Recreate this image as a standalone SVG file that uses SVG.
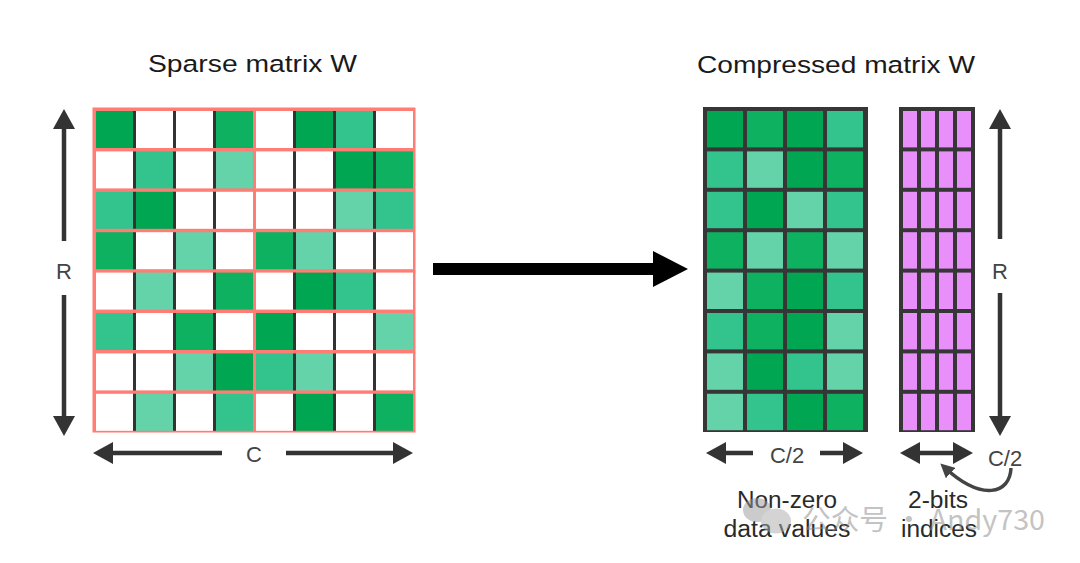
<svg xmlns="http://www.w3.org/2000/svg" width="1080" height="563" viewBox="0 0 1080 563">
<style>
  .d{fill:#00A651}
  .m{fill:#0EB160}
  .l{fill:#33C48D}
  .x{fill:#64D3AA}
  .w{fill:#FFFFFF}
  .p{fill:#E98FF9}
  .title{font-family:"Liberation Sans",Arial,sans-serif;font-size:24.5px;fill:#1a1a1a}
  .lab{font-family:"Liberation Sans",Arial,sans-serif;font-size:23px;fill:#2a2a2a}
  .dim{font-family:"Liberation Sans",Arial,sans-serif;font-size:22px;fill:#444;text-anchor:middle}
  .arr{stroke:#333;stroke-width:4.5;fill:none}
  .sep{stroke:#333;stroke-width:3;stroke-dasharray:37 3.4}
</style>
<defs>
  <marker id="ah" markerUnits="userSpaceOnUse" markerWidth="20" markerHeight="22" viewBox="0 0 20 22" refX="14" refY="11" orient="auto-start-reverse">
    <path d="M0,0 L20,11 L0,22 z" fill="#333"/>
  </marker>
  <marker id="ahs" markerUnits="userSpaceOnUse" markerWidth="14" markerHeight="14" viewBox="0 0 14 14" refX="9" refY="7" orient="auto">
    <path d="M0,0 L14,7 L0,14 z" fill="#444"/>
  </marker>
</defs>
<rect width="1080" height="563" fill="#fff"/>

<g id="title-sparse"><text class="title" x="148" y="72" textLength="209" lengthAdjust="spacingAndGlyphs">Sparse matrix W</text></g>
<g id="title-compressed"><text class="title" x="697" y="73" textLength="278" lengthAdjust="spacingAndGlyphs">Compressed matrix W</text></g>

<g id="sparse-matrix">
  <rect x="92.5" y="107.5" width="323" height="325" fill="#FF7D74"/>
  <rect class="d" x="96" y="111" width="37" height="37"/><rect class="w" x="136" y="111" width="37" height="37"/><rect class="w" x="176" y="111" width="37" height="37"/><rect class="m" x="216" y="111" width="37" height="37"/><rect class="w" x="256" y="111" width="37" height="37"/><rect class="d" x="296" y="111" width="37" height="37"/><rect class="l" x="336" y="111" width="37" height="37"/><rect class="w" x="376" y="111" width="37" height="37"/>
  <rect class="w" x="96" y="151.4" width="37" height="37"/><rect class="l" x="136" y="151.4" width="37" height="37"/><rect class="w" x="176" y="151.4" width="37" height="37"/><rect class="x" x="216" y="151.4" width="37" height="37"/><rect class="w" x="256" y="151.4" width="37" height="37"/><rect class="w" x="296" y="151.4" width="37" height="37"/><rect class="d" x="336" y="151.4" width="37" height="37"/><rect class="m" x="376" y="151.4" width="37" height="37"/>
  <rect class="l" x="96" y="191.8" width="37" height="37"/><rect class="d" x="136" y="191.8" width="37" height="37"/><rect class="w" x="176" y="191.8" width="37" height="37"/><rect class="w" x="216" y="191.8" width="37" height="37"/><rect class="w" x="256" y="191.8" width="37" height="37"/><rect class="w" x="296" y="191.8" width="37" height="37"/><rect class="x" x="336" y="191.8" width="37" height="37"/><rect class="l" x="376" y="191.8" width="37" height="37"/>
  <rect class="m" x="96" y="232.2" width="37" height="37"/><rect class="w" x="136" y="232.2" width="37" height="37"/><rect class="x" x="176" y="232.2" width="37" height="37"/><rect class="w" x="216" y="232.2" width="37" height="37"/><rect class="m" x="256" y="232.2" width="37" height="37"/><rect class="x" x="296" y="232.2" width="37" height="37"/><rect class="w" x="336" y="232.2" width="37" height="37"/><rect class="w" x="376" y="232.2" width="37" height="37"/>
  <rect class="w" x="96" y="272.6" width="37" height="37"/><rect class="x" x="136" y="272.6" width="37" height="37"/><rect class="w" x="176" y="272.6" width="37" height="37"/><rect class="m" x="216" y="272.6" width="37" height="37"/><rect class="w" x="256" y="272.6" width="37" height="37"/><rect class="d" x="296" y="272.6" width="37" height="37"/><rect class="l" x="336" y="272.6" width="37" height="37"/><rect class="w" x="376" y="272.6" width="37" height="37"/>
  <rect class="l" x="96" y="313" width="37" height="37"/><rect class="w" x="136" y="313" width="37" height="37"/><rect class="m" x="176" y="313" width="37" height="37"/><rect class="w" x="216" y="313" width="37" height="37"/><rect class="d" x="256" y="313" width="37" height="37"/><rect class="w" x="296" y="313" width="37" height="37"/><rect class="w" x="336" y="313" width="37" height="37"/><rect class="x" x="376" y="313" width="37" height="37"/>
  <rect class="w" x="96" y="353.4" width="37" height="37"/><rect class="w" x="136" y="353.4" width="37" height="37"/><rect class="x" x="176" y="353.4" width="37" height="37"/><rect class="d" x="216" y="353.4" width="37" height="37"/><rect class="l" x="256" y="353.4" width="37" height="37"/><rect class="x" x="296" y="353.4" width="37" height="37"/><rect class="w" x="336" y="353.4" width="37" height="37"/><rect class="w" x="376" y="353.4" width="37" height="37"/>
  <rect class="w" x="96" y="393.8" width="37" height="37"/><rect class="x" x="136" y="393.8" width="37" height="37"/><rect class="w" x="176" y="393.8" width="37" height="37"/><rect class="l" x="216" y="393.8" width="37" height="37"/><rect class="w" x="256" y="393.8" width="37" height="37"/><rect class="d" x="296" y="393.8" width="37" height="37"/><rect class="w" x="336" y="393.8" width="37" height="37"/><rect class="m" x="376" y="393.8" width="37" height="37"/>
  <line class="sep" x1="134.5" y1="111" x2="134.5" y2="431"/>
  <line class="sep" x1="174.5" y1="111" x2="174.5" y2="431"/>
  <line class="sep" x1="214.5" y1="111" x2="214.5" y2="431"/>
  <line class="sep" x1="294.5" y1="111" x2="294.5" y2="431"/>
  <line class="sep" x1="334.5" y1="111" x2="334.5" y2="431"/>
  <line class="sep" x1="374.5" y1="111" x2="374.5" y2="431"/>
</g>

<g id="compressed-values">
  <rect x="703" y="107" width="165" height="325" fill="#363636"/>
  <rect class="d" x="707" y="111" width="36" height="36.4"/><rect class="m" x="747" y="111" width="36" height="36.4"/><rect class="d" x="787" y="111" width="36" height="36.4"/><rect class="l" x="827" y="111" width="36" height="36.4"/>
  <rect class="l" x="707" y="151.4" width="36" height="36.4"/><rect class="x" x="747" y="151.4" width="36" height="36.4"/><rect class="d" x="787" y="151.4" width="36" height="36.4"/><rect class="m" x="827" y="151.4" width="36" height="36.4"/>
  <rect class="l" x="707" y="191.8" width="36" height="36.4"/><rect class="d" x="747" y="191.8" width="36" height="36.4"/><rect class="x" x="787" y="191.8" width="36" height="36.4"/><rect class="l" x="827" y="191.8" width="36" height="36.4"/>
  <rect class="m" x="707" y="232.2" width="36" height="36.4"/><rect class="x" x="747" y="232.2" width="36" height="36.4"/><rect class="m" x="787" y="232.2" width="36" height="36.4"/><rect class="x" x="827" y="232.2" width="36" height="36.4"/>
  <rect class="x" x="707" y="272.6" width="36" height="36.4"/><rect class="m" x="747" y="272.6" width="36" height="36.4"/><rect class="d" x="787" y="272.6" width="36" height="36.4"/><rect class="l" x="827" y="272.6" width="36" height="36.4"/>
  <rect class="l" x="707" y="313" width="36" height="36.4"/><rect class="m" x="747" y="313" width="36" height="36.4"/><rect class="d" x="787" y="313" width="36" height="36.4"/><rect class="x" x="827" y="313" width="36" height="36.4"/>
  <rect class="x" x="707" y="353.4" width="36" height="36.4"/><rect class="d" x="747" y="353.4" width="36" height="36.4"/><rect class="l" x="787" y="353.4" width="36" height="36.4"/><rect class="x" x="827" y="353.4" width="36" height="36.4"/>
  <rect class="x" x="707" y="393.8" width="36" height="36.4"/><rect class="l" x="747" y="393.8" width="36" height="36.4"/><rect class="d" x="787" y="393.8" width="36" height="36.4"/><rect class="m" x="827" y="393.8" width="36" height="36.4"/>
</g>

<g id="indices">
  <rect x="899" y="107" width="76" height="325" fill="#363636"/>
  <rect class="p" x="903" y="111" width="14" height="36.4"/><rect class="p" x="921" y="111" width="14" height="36.4"/><rect class="p" x="939" y="111" width="14" height="36.4"/><rect class="p" x="957" y="111" width="14" height="36.4"/>
  <rect class="p" x="903" y="151.4" width="14" height="36.4"/><rect class="p" x="921" y="151.4" width="14" height="36.4"/><rect class="p" x="939" y="151.4" width="14" height="36.4"/><rect class="p" x="957" y="151.4" width="14" height="36.4"/>
  <rect class="p" x="903" y="191.8" width="14" height="36.4"/><rect class="p" x="921" y="191.8" width="14" height="36.4"/><rect class="p" x="939" y="191.8" width="14" height="36.4"/><rect class="p" x="957" y="191.8" width="14" height="36.4"/>
  <rect class="p" x="903" y="232.2" width="14" height="36.4"/><rect class="p" x="921" y="232.2" width="14" height="36.4"/><rect class="p" x="939" y="232.2" width="14" height="36.4"/><rect class="p" x="957" y="232.2" width="14" height="36.4"/>
  <rect class="p" x="903" y="272.6" width="14" height="36.4"/><rect class="p" x="921" y="272.6" width="14" height="36.4"/><rect class="p" x="939" y="272.6" width="14" height="36.4"/><rect class="p" x="957" y="272.6" width="14" height="36.4"/>
  <rect class="p" x="903" y="313" width="14" height="36.4"/><rect class="p" x="921" y="313" width="14" height="36.4"/><rect class="p" x="939" y="313" width="14" height="36.4"/><rect class="p" x="957" y="313" width="14" height="36.4"/>
  <rect class="p" x="903" y="353.4" width="14" height="36.4"/><rect class="p" x="921" y="353.4" width="14" height="36.4"/><rect class="p" x="939" y="353.4" width="14" height="36.4"/><rect class="p" x="957" y="353.4" width="14" height="36.4"/>
  <rect class="p" x="903" y="393.8" width="14" height="36.4"/><rect class="p" x="921" y="393.8" width="14" height="36.4"/><rect class="p" x="939" y="393.8" width="14" height="36.4"/><rect class="p" x="957" y="393.8" width="14" height="36.4"/>
</g>

<g id="dimension-labels">
  <text class="dim" x="64" y="279">R</text>
  <text class="dim" x="1000" y="279">R</text>
  <text class="dim" x="254" y="462">C</text>
  <text class="dim" x="787" y="463">C/2</text>
  <text class="dim" x="1005" y="466">C/2</text>
</g>

<g id="caption-values">
  <text class="lab" x="787" y="508" text-anchor="middle" textLength="100" lengthAdjust="spacingAndGlyphs">Non-zero</text>
  <text class="lab" x="787" y="537" text-anchor="middle" textLength="127" lengthAdjust="spacingAndGlyphs">data values</text>
</g>
<g id="caption-indices">
  <text class="lab" x="938" y="508" text-anchor="middle" textLength="60" lengthAdjust="spacingAndGlyphs">2-bits</text>
  <text class="lab" x="939" y="537" text-anchor="middle" textLength="76" lengthAdjust="spacingAndGlyphs">indices</text>
</g>

<g id="connectors">
  <line class="arr" x1="64" y1="241" x2="64" y2="115" marker-end="url(#ah)"/>
  <line class="arr" x1="64" y1="295" x2="64" y2="430" marker-end="url(#ah)"/>
  <line class="arr" x1="1000" y1="239" x2="1000" y2="115" marker-end="url(#ah)"/>
  <line class="arr" x1="1000" y1="293" x2="1000" y2="430" marker-end="url(#ah)"/>
  <line class="arr" x1="222" y1="453" x2="99" y2="453" marker-end="url(#ah)"/>
  <line class="arr" x1="286" y1="453" x2="407" y2="453" marker-end="url(#ah)"/>
  <line class="arr" x1="753" y1="453" x2="712" y2="453" marker-end="url(#ah)"/>
  <line class="arr" x1="820" y1="453" x2="857" y2="453" marker-end="url(#ah)"/>
  <line class="arr" x1="906" y1="453" x2="967" y2="453" marker-start="url(#ah)" marker-end="url(#ah)"/>
  <path d="M1011,468 C1010,494 982,502 944,467" stroke="#444" stroke-width="3.5" fill="none" marker-end="url(#ahs)"/>
  <g id="main-arrow">
    <rect x="433" y="263" width="222" height="12" fill="#000"/>
    <path d="M653,251 L688,269 L653,287 z" fill="#000"/>
  </g>
</g>

<g id="watermark" opacity="0.5">
  <ellipse cx="757" cy="510" rx="14" ry="12" fill="#999"/>
  <ellipse cx="776" cy="521" rx="15" ry="12.5" fill="#aaa"/>
  <text x="802" y="530" font-family="'Noto Sans CJK SC','Noto Sans',sans-serif" font-size="28" fill="#888" textLength="243" lengthAdjust="spacingAndGlyphs">公众号 · Andy730</text>
</g>
</svg>
